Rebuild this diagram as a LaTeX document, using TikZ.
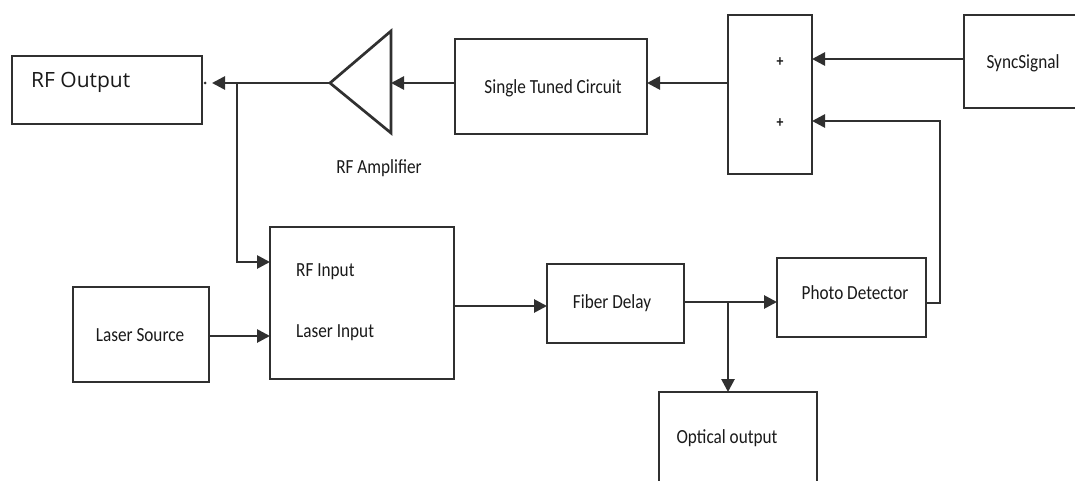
\documentclass[tikz,border=0pt]{standalone}
\usepackage{fontspec}
\setmainfont{Carlito}
\newfontfamily\narrowfont[FakeStretch=0.86]{Carlito}
\newfontfamily\widefont{Open Sans}
\usetikzlibrary{arrows.meta,calc}
\definecolor{ink}{HTML}{303030}
\definecolor{txt}{HTML}{1A1A1A}
\tikzset{
  blk/.style={draw=ink, line width=2.7pt, minimum width=#1, inner sep=0pt, outer sep=0pt, anchor=center},
  lbl/.style={text=txt, inner sep=0pt, font=\narrowfont\fontsize{20}{24}\selectfont},
  arr/.style={draw=ink, line width=2.7pt, -{Triangle[length=13pt,width=13pt]}},
  wire/.style={draw=ink, line width=2.7pt},
}
\begin{document}
\begin{tikzpicture}[x=1pt,y=-1pt]
\useasboundingbox (0,0) rectangle (1075,481);
\clip (0,0) rectangle (1075,481);
\fill[white] (0,0) rectangle (1075,481);

% blocks
\node[blk=190pt, minimum height=68pt] (rfout) at (107,90) {};
\node[blk=192pt, minimum height=95pt] (stc) at (551,86.5) {};
\node[blk=84pt, minimum height=159pt] (sum) at (770,94.5) {};
\node[blk=126pt, minimum height=93pt] (sync) at (1027,61.5) {};
\node[blk=136pt, minimum height=95pt] (laser) at (141,334.5) {};
\node[blk=184pt, minimum height=152pt] (mod) at (362,303) {};
\node[blk=137pt, minimum height=79pt] (fiber) at (615.5,303.5) {};
\node[blk=149pt, minimum height=79pt] (pd) at (851.5,297.5) {};
\node[blk=158pt, minimum height=108pt] (opt) at (738,446) {};

% amplifier triangle
\draw[wire, line join=miter] (391,31) -- (330,83) -- (391,133) -- cycle;
\coordinate (ampin) at (391,83);
\coordinate (ampout) at (330,83);

% labels
\node[text=txt, inner sep=0pt, anchor=west, font=\widefont\fontsize{21}{25}\selectfont] (trfout) at (31,82) {RF Output};
\node[lbl] (tamp) at (379,168) {RF Amplifier};
\node[lbl] (tstc) at (553,88) {Single Tuned Circuit};
\node[lbl, font=\narrowfont\bfseries\fontsize{16}{18}\selectfont] (p1) at (780,62) {+};
\node[lbl, font=\narrowfont\bfseries\fontsize{16}{18}\selectfont] (p2) at (780,123) {+};
\node[lbl] (tsync) at (1023,63) {SyncSignal};
\node[lbl] (tlaser) at (140,335) {Laser Source};
\node[lbl, anchor=west] (trfin) at (296,272) {RF Input};
\node[lbl, anchor=west] (tlin) at (296,333) {Laser Input};
\node[lbl] (tfiber) at (612,303) {Fiber Delay};
\node[lbl] (tpd) at (855,293) {Photo Detector};
\node[lbl] (topt) at (727,438) {Optical output};

% helper coordinates
\coordinate (rftip) at (212,83);
\coordinate (jn) at (237,83);
\coordinate (rfin) at (270,262);
\coordinate (syncy) at (0,59);
\coordinate (pdout) at (926,303);
\coordinate (fbc) at (940,121);
\coordinate (lasy) at (0,336);
\coordinate (mody) at (0,306);
\coordinate (fpy) at (0,302);
\coordinate (br) at (728,302);

% connectors
\draw[arr] (stc.west |- ampin) -- (ampin);
\draw[arr] (ampout) -- (rftip);
\fill[ink] (205,83) circle (1.5pt);
\draw[arr] (jn) |- (rfin);
\draw[arr] (sum.west |- ampin) -- (stc.east |- ampin);
\draw[arr] (sync.west |- syncy) -- (sum.east |- syncy);
\draw[arr] (pdout) -| (fbc) -- (sum.east |- fbc);
\draw[arr] (laser.east |- lasy) -- (mod.west |- lasy);
\draw[arr] (mod.east |- mody) -- (fiber.west |- mody);
\draw[arr] (fiber.east |- fpy) -- (pd.west |- fpy);
\draw[arr] (br) -- (br |- opt.north);
\end{tikzpicture}
\end{document}
